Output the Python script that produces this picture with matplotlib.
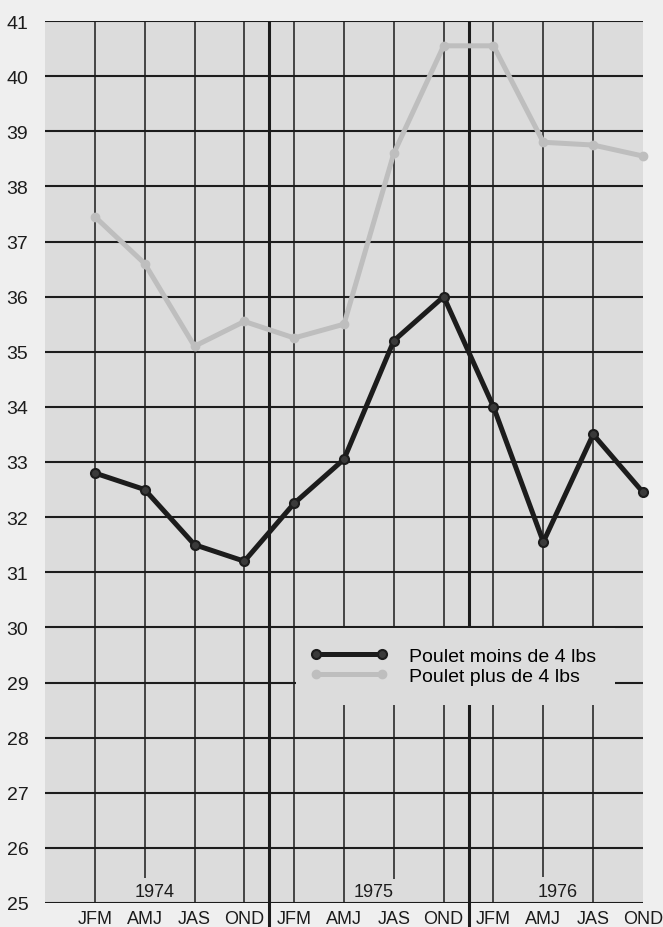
import matplotlib.pyplot as plt
from matplotlib.patches import Rectangle

# quarters for 1974-1976
quarters = ["JFM", "AMJ", "JAS", "OND"] * 3
years = ["1974", "1975", "1976"]

# prix moyen (cents/lb)
moins_4lbs = [32.8, 32.5, 31.5, 31.2, 32.25, 33.05, 35.2, 36.0, 34.0, 31.55, 33.5, 32.45]
plus_4lbs = [37.45, 36.6, 35.1, 35.55, 35.25, 35.5, 38.6, 40.55, 40.55, 38.8, 38.75, 38.55]

plt.rcParams.update({
    'font.family': ['Liberation Sans', 'DejaVu Sans'],
    'font.size': 12,
})

BG_FIG = '#efefef'
BG_AX = '#dcdcdc'
INK = '#1c1c1c'

fig = plt.figure(figsize=(6.63, 9.28), dpi=100, facecolor=BG_FIG)
ax = fig.add_axes([45 / 663, 1 - 904 / 928, 598 / 663, 882 / 928])
ax.set_facecolor(BG_AX)

x = list(range(len(quarters)))
ax.set_xlim(-1, 10.96)
ax.set_ylim(25, 41)

# horizontal grid
for v in range(25, 42):
    ax.axhline(v, color=INK, lw=1.5, zorder=1)

# vertical quarter lines (a few stop above the year labels)
short_bottom = {1: 25.46, 6: 25.43, 9: 25.48}
for i in x[:-1]:
    ax.plot([i, i], [short_bottom.get(i, 25), 41], color=INK, lw=1.1, zorder=1,
            solid_capstyle='butt')

# thicker separators between years, running down through the labels
for sep in (3.5, 7.5):
    ax.plot([sep, sep], [24.55, 41], color=INK, lw=2.2, zorder=1.5,
            clip_on=False, solid_capstyle='butt')

# year labels
for k, yr in enumerate(years):
    ax.text(4 * k + [1.2, 1.6, 1.28][k], 25.21, yr, ha='center', va='center',
            fontsize=13, color=INK, zorder=3)

# blank area behind the legend
ax.add_patch(Rectangle((4.03, 28.6), 6.4, 1.38, facecolor=BG_AX, edgecolor='none',
                       zorder=2))

l2, = ax.plot(x, plus_4lbs, color='#bebebe', lw=3.6, marker='o', ms=6,
              mfc='#bebebe', mec='#bebebe', zorder=4, clip_on=False,
              label='Poulet plus de 4 lbs')
l1, = ax.plot(x, moins_4lbs, color=INK, lw=3.6, marker='o', ms=6.5,
              mfc='#3a3a3a', mec=INK, mew=1.5, zorder=5, clip_on=False,
              label='Poulet moins de 4 lbs')

ax.legend(handles=[l1, l2], loc='upper left', bbox_to_anchor=(0.443, 0.29),
          frameon=False, fontsize=14, numpoints=2, handlelength=4.0,
          handletextpad=1.1, labelspacing=0.12, borderpad=0, borderaxespad=0)

ax.set_xticks(x)
ax.set_xticklabels(quarters, fontsize=13, color=INK)
ax.set_yticks(range(25, 42))
ax.set_yticklabels([str(v) for v in range(25, 42)], fontsize=14, color=INK)
ax.tick_params(length=0)
ax.tick_params(axis='x', pad=5)
ax.tick_params(axis='y', pad=12)
for s in ax.spines.values():
    s.set_visible(False)

fig.savefig('out.png', dpi=100, facecolor=BG_FIG)
